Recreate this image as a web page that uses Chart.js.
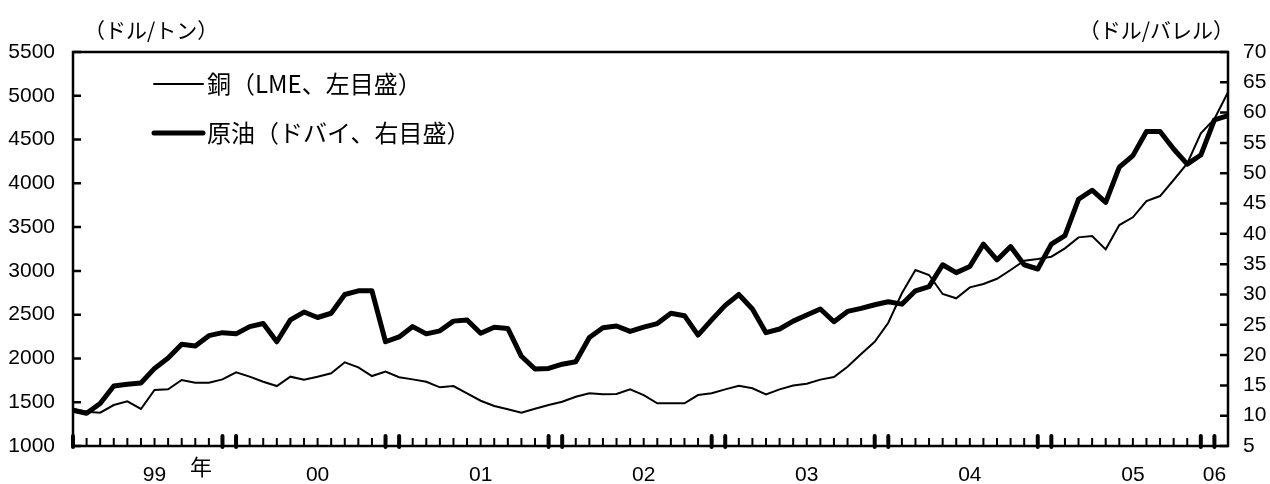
<!DOCTYPE html>
<html>
<head>
<meta charset="utf-8">
<script src="https://cdn.jsdelivr.net/npm/chart.js@4.4.0/dist/chart.umd.min.js"></script>
<style>
  html, body { margin: 0; padding: 0; background: #fff; }
</style>
</head>
<body>
<canvas id="chart" width="1270" height="484"></canvas>
<script>
// monthly, Jan 1999 .. Feb 2006
var months = [];
for (var yr = 1999; yr <= 2006; yr++) {
  for (var m = 1; m <= 12; m++) {
    if (yr === 2006 && m > 2) break;
    months.push(yr + '/' + m);
  }
}

// copper, LME, $/ton (left axis)
var copperLME = [
  1423, 1392, 1380, 1468, 1510, 1423, 1640, 1647, 1754, 1723, 1723, 1761,
  1841, 1792, 1734, 1685, 1792, 1757, 1792, 1830, 1956, 1899, 1799, 1849,
  1785, 1761, 1734, 1670, 1685, 1602, 1517, 1457, 1419, 1380, 1425, 1468,
  1506, 1563, 1602, 1590, 1594, 1647, 1582, 1487, 1487, 1487, 1582, 1602,
  1647, 1688, 1659, 1590, 1647, 1690, 1712, 1758, 1788, 1906, 2051, 2191,
  2408, 2744, 3010, 2953, 2736, 2687, 2812, 2850, 2910, 3010, 3116, 3135,
  3162, 3257, 3383, 3398, 3246, 3524, 3612, 3798, 3855, 4038, 4228, 4571,
  4735, 5040
];

// crude oil, Dubai, $/barrel (right axis)
var oilDubai = [
  10.9, 10.4, 12.0, 14.9, 15.2, 15.4, 17.8, 19.5, 21.8, 21.5, 23.2, 23.7,
  23.5, 24.7, 25.2, 22.2, 25.8, 27.1, 26.2, 26.9, 30.0, 30.6, 30.6, 22.2,
  23.0, 24.7, 23.5, 24.0, 25.6, 25.8, 23.6, 24.6, 24.4, 19.8, 17.7, 17.8,
  18.5, 18.9, 22.9, 24.5, 24.8, 23.9, 24.6, 25.2, 26.9, 26.5, 23.3, 25.8,
  28.2, 30.0, 27.6, 23.7, 24.3, 25.6, 26.6, 27.6, 25.5, 27.2, 27.7, 28.3,
  28.8, 28.4, 30.6, 31.3, 34.9, 33.6, 34.6, 38.3, 35.7, 37.9, 34.9, 34.2,
  38.3, 39.7, 45.7, 47.2, 45.2, 51.0, 52.9, 56.9, 56.9, 54.0, 51.5, 53.0,
  58.8, 59.5
];

var yearLabels = ['99', '00', '01', '02', '03', '04', '05', '06'];
var yearLabelAt = [6, 18, 30, 42, 54, 66, 78, 84];

var numFont = { family: 'Liberation Sans, Arial, sans-serif', size: 21 };
var jpFont = '"Noto Sans CJK JP", sans-serif';

function plain(v) { return String(v); }

// frame, inward tick marks, titles and legend
var decorations = {
  id: 'decorations',
  afterDraw: function (chart) {
    var ctx = chart.ctx, a = chart.chartArea;
    var x = chart.scales.x, yl = chart.scales.y, yr = chart.scales.y1;
    ctx.save();
    ctx.strokeStyle = '#000';
    ctx.fillStyle = '#000';

    ctx.lineWidth = 2.5;
    ctx.strokeRect(a.left, a.top, a.right - a.left, a.bottom - a.top);

    ctx.beginPath();
    yl.ticks.forEach(function (t) {
      var p = yl.getPixelForValue(t.value);
      ctx.moveTo(a.left, p); ctx.lineTo(a.left + 8, p);
    });
    yr.ticks.forEach(function (t) {
      var p = yr.getPixelForValue(t.value);
      ctx.moveTo(a.right, p); ctx.lineTo(a.right - 8, p);
    });
    ctx.stroke();

    // month ticks, heavier ones at Dec / Jan
    for (var i = 0; i < months.length - 1; i++) {
      var px = x.getPixelForValue(i);
      var heavy = (i % 12 === 0 || i % 12 === 11);
      ctx.beginPath();
      if (heavy) {
        ctx.lineWidth = 4; ctx.lineCap = 'round';
        ctx.moveTo(px, a.bottom + 1); ctx.lineTo(px, a.bottom - 10);
      } else {
        ctx.lineWidth = 2; ctx.lineCap = 'butt';
        ctx.moveTo(px, a.bottom); ctx.lineTo(px, a.bottom - 8);
      }
      ctx.stroke();
    }

    // unit titles
    ctx.font = '21px ' + jpFont;
    ctx.textBaseline = 'middle';
    ctx.textAlign = 'left';
    ctx.fillText('（ドル/トン）', 84, 30);
    ctx.textAlign = 'right';
    ctx.fillText('（ドル/バレル）', 1234, 30);
    ctx.textAlign = 'center';
    ctx.font = '22px ' + jpFont;
    ctx.fillText('年', 201, 467);

    // legend
    ctx.font = '24px ' + jpFont;
    ctx.textAlign = 'left';
    var rows = [84, 133];
    chart.data.datasets.forEach(function (ds, k) {
      ctx.beginPath();
      ctx.lineWidth = ds.borderWidth;
      ctx.lineCap = 'round';
      ctx.moveTo(a.left + 81, rows[k]); ctx.lineTo(a.left + 130, rows[k]);
      ctx.stroke();
      ctx.fillText(ds.label, a.left + 134, rows[k]);
    });
    ctx.restore();
  }
};

new Chart(document.getElementById('chart').getContext('2d'), {
  type: 'line',
  data: {
    labels: months,
    datasets: [
      {
        label: '銅（LME、左目盛）',
        data: copperLME,
        yAxisID: 'y',
        borderColor: '#000',
        borderWidth: 2,
        pointRadius: 0
      },
      {
        label: '原油（ドバイ、右目盛）',
        data: oilDubai,
        yAxisID: 'y1',
        borderColor: '#000',
        borderWidth: 5,
        borderJoinStyle: 'round',
        pointRadius: 0
      }
    ]
  },
  options: {
    responsive: false,
    animation: false,
    devicePixelRatio: 1,
    layout: { padding: { top: 52, left: 0, right: 0, bottom: 0 } },
    plugins: { legend: { display: false }, tooltip: { enabled: false } },
    scales: {
      x: {
        type: 'category',
        offset: false,
        grid: { display: false, drawTicks: false },
        border: { display: false },
        ticks: {
          autoSkip: false, maxRotation: 0, padding: 17, color: '#000', font: numFont,
          callback: function (v, i) {
            var k = yearLabelAt.indexOf(i);
            return k < 0 ? '' : yearLabels[k];
          }
        },
        afterFit: function (s) { s.height = 38; }
      },
      y: {
        position: 'left',
        min: 1000, max: 5500,
        grid: { display: false, drawTicks: false },
        border: { display: false },
        ticks: { stepSize: 500, padding: 18, color: '#000', font: numFont, callback: plain },
        afterFit: function (s) { s.width = 73; }
      },
      y1: {
        position: 'right',
        min: 5, max: 70,
        grid: { display: false, drawTicks: false },
        border: { display: false },
        ticks: { stepSize: 5, padding: 15, color: '#000', font: numFont, callback: plain },
        afterFit: function (s) { s.width = 42; }
      }
    }
  },
  plugins: [decorations]
});
</script>
</body>
</html>
